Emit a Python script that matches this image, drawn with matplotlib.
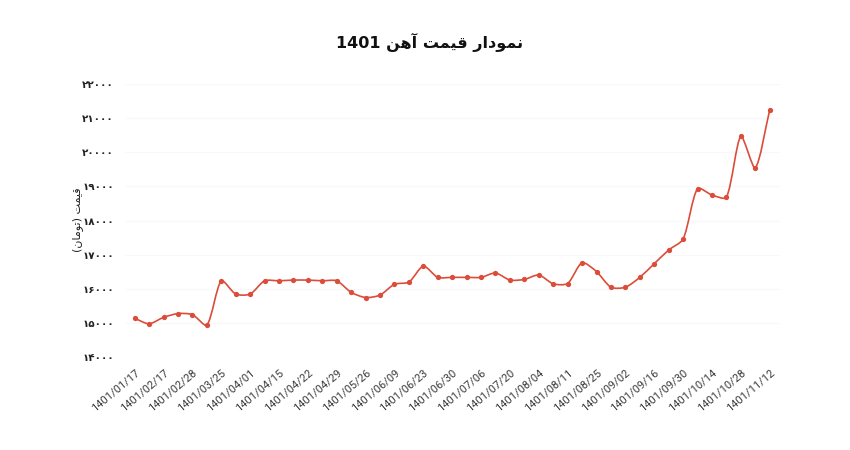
import matplotlib
matplotlib.use("Agg")
import matplotlib.pyplot as plt
from matplotlib.path import Path
from matplotlib.patches import PathPatch
import numpy as np

# ---------------- data ----------------
tick_labels = ["1401/01/17", "1401/02/17", "1401/02/28", "1401/03/25", "1401/04/01",
               "1401/04/15", "1401/04/22", "1401/04/29", "1401/05/26", "1401/06/09",
               "1401/06/23", "1401/06/30", "1401/07/06", "1401/07/20", "1401/08/04",
               "1401/08/11", "1401/08/25", "1401/09/02", "1401/09/16", "1401/09/30",
               "1401/10/14", "1401/10/28", "1401/11/12"]
prices = [15140, 14980, 15170, 15280, 15250, 14940, 16240, 15850, 15850, 16240,
          16240, 16260, 16260, 16240, 16240, 15900, 15750, 15820, 16140, 16200,
          16670, 16340, 16340, 16340, 16340, 16470, 16260, 16280, 16410, 16150,
          16160, 16770, 16510, 16050, 16050, 16340, 16740, 17140, 17460, 18940,
          18750, 18680, 20470, 19540, 21240]
y_ticks = [14000, 15000, 16000, 17000, 18000, 19000, 20000, 21000, 22000]

# Persian text in visual order (presentation forms)
title_text = "1401 " + "\uFEE6\uFEEB\uFE81" + " " + "\uFE96\uFEE4\uFEF4\uFED7" + " " + \
             "\uFEAD\uFE8D\uFEA9\uFEEE\uFEE4\uFEE7"
ylabel_text = "(" + "\uFEE5\uFE8E\uFEE3\uFEEE\uFE97" + ") " + "\uFE96\uFEE4\uFEF4\uFED7"

fa_digits = str.maketrans("0123456789", "\u06F0\u06F1\u06F2\u06F3\u06F4\u06F5\u06F6\u06F7\u06F8\u06F9")

LINE = "#dc4c3a"

fig = plt.figure(figsize=(8.5, 4.5), dpi=100)
W, H = 850, 450
left, right, top, bottom = 125, 780, 84, 357.3
ax = fig.add_axes([left / W, 1 - bottom / H, (right - left) / W, (bottom - top) / H])

x = np.arange(len(prices))
y = np.array(prices, dtype=float)
ax.set_xlim(-(134.7 - left) / 14.42, 44 + (right - 769.7) / 14.42)
ax.set_ylim(14000, 22000)

# smooth (chart.js style tension) curve
fig.canvas.draw()
pts = ax.transData.transform(np.column_stack([x, y]))
t = 0.25
n = len(pts)
cp_prev = np.zeros_like(pts)
cp_next = np.zeros_like(pts)
for i in range(n):
    p0 = pts[max(i - 1, 0)]
    p1 = pts[i]
    p2 = pts[min(i + 1, n - 1)]
    d01 = np.hypot(*(p1 - p0))
    d12 = np.hypot(*(p2 - p1))
    tot = d01 + d12
    s01 = d01 / tot if tot else 0
    s12 = d12 / tot if tot else 0
    cp_prev[i] = p1 - t * s01 * (p2 - p0)
    cp_next[i] = p1 + t * s12 * (p2 - p0)
verts = [pts[0]]
codes = [Path.MOVETO]
for i in range(n - 1):
    verts += [cp_next[i], cp_prev[i + 1], pts[i + 1]]
    codes += [Path.CURVE4] * 3
inv = ax.transData.inverted()
verts = inv.transform(np.array(verts))
patch = PathPatch(Path(verts, codes), facecolor="none", edgecolor=LINE, lw=1.2, zorder=2)
ax.add_patch(patch)
ax.plot(x, y, "o", color=LINE, markersize=3.8, zorder=3, markeredgewidth=0)

# axes styling
for s in ax.spines.values():
    s.set_visible(False)
ax.set_yticks(y_ticks)
ax.set_yticklabels([str(v).translate(fa_digits) for v in y_ticks],
                   fontsize=7.5, fontweight="bold", family=["DejaVu Sans"], color="#222222")
ax.set_xticks(x[::2])
ax.set_xticklabels(tick_labels, rotation=40, ha="right", va="top", rotation_mode="anchor",
                   fontsize=8, family=["Roboto", "DejaVu Sans"], color="#3a3a3a")
ax.tick_params(axis="both", length=0)
ax.tick_params(axis="y", pad=8)
ax.tick_params(axis="x", pad=7)
ax.grid(axis="y", color="#f8f8f8", lw=0.8)
ax.set_axisbelow(True)

fig.text(78 / W, 1 - 220 / H, ylabel_text, rotation=90, ha="center", va="center",
         fontsize=8, family=["DejaVu Sans"], color="#222222")
fig.text(430 / W, 1 - 42 / H, title_text, ha="center", va="center",
         fontsize=11.5, fontweight="bold", family=["DejaVu Sans"], color="#111111")

fig.savefig("out.png", dpi=100, facecolor="white")
